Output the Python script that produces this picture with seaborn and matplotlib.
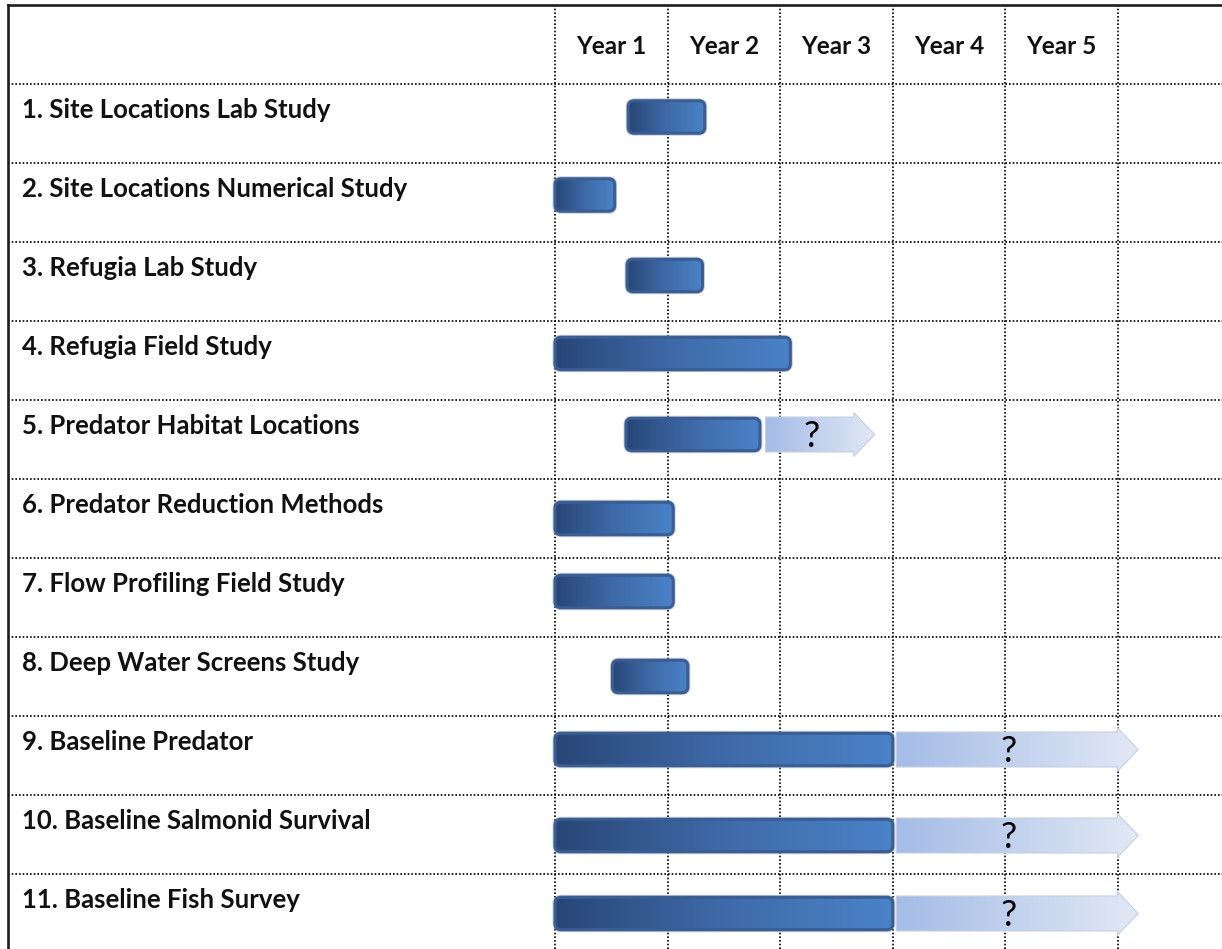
import numpy as np
import pandas as pd
import matplotlib
matplotlib.use("Agg")
import matplotlib.pyplot as plt
from matplotlib.patches import FancyBboxPatch, Polygon
from matplotlib.colors import LinearSegmentedColormap
import seaborn as sns

# ---- schedule data (in years from project start) ----
tasks = [
    "1. Site Locations Lab Study",
    "2. Site Locations Numerical Study",
    "3. Refugia Lab Study",
    "4. Refugia Field Study",
    "5. Predator Habitat Locations",
    "6. Predator Reduction Methods",
    "7. Flow Profiling Field Study",
    "8. Deep Water Screens Study",
    "9. Baseline Predator",
    "10. Baseline Salmonid Survival",
    "11. Baseline Fish Survey",
]
start_year = [0.65, 0.0, 0.64, 0.0, 0.63, 0.0, 0.0, 0.51, 0.0, 0.0, 0.0]
end_year = [1.33, 0.53, 1.31, 2.09, 1.82, 1.05, 1.05, 1.18, 3.0, 3.0, 3.0]
# uncertain continuation of a task (None where the task has none)
ext_start = [None, None, None, None, 1.87, None, None, None, 3.03, 3.03, 3.03]
ext_end = [None, None, None, None, 2.84, None, None, None, 5.18, 5.18, 5.18]
ext_label = "?"
years = ["Year 1", "Year 2", "Year 3", "Year 4", "Year 5"]

# ---- layout ----
W_PX, H_PX = 1222, 949
PX_X = 112.6          # pixels per year
PX_Y = 79.0           # pixels per row
X_ORIGIN_PX = 555     # pixel column of year 0
ROW0_TOP_PX = 84      # pixel row of the first task's top rule
BAR_H = 32.5 / PX_Y
row_nudge_px = [-6.5, -7.5, -6, -7, -5, 0, -6, 0, -6, 1, 0]
R_CORNER = 6 / PX_X
HEAD_LEN = 21 / PX_X
ARROW_HALF = 17.5 / PX_Y
HEAD_HALF = 22 / PX_Y

xlim = (-X_ORIGIN_PX / PX_X, (W_PX - X_ORIGIN_PX) / PX_X)
ylim = ((H_PX - ROW0_TOP_PX) / PX_Y - 0.5, -ROW0_TOP_PX / PX_Y - 0.5)
frame_left = (7.5 - X_ORIGIN_PX) / PX_X
frame_top = -1.5
label_x = (22 - X_ORIGIN_PX) / PX_X

sns.set_theme(style="white")
plt.rcParams["font.family"] = ["Lato", "DejaVu Sans"]

fig = plt.figure(figsize=(W_PX / 100, H_PX / 100), dpi=100)
ax = fig.add_axes([0, 0, 1, 1])

df = pd.DataFrame({
    "task": tasks,
    "start": start_year,
    "duration": np.subtract(end_year, start_year),
})
sns.barplot(data=df, x="duration", y="task", orient="h", left=df["start"].to_numpy(),
            width=BAR_H, color="#3a5d92", errorbar=None, ax=ax)

bar_grad = LinearSegmentedColormap.from_list("bar", ["#284677", "#3f6aa8", "#4a82c8"])
ext_grad = LinearSegmentedColormap.from_list("ext", ["#a5bce6", "#c3d2ee", "#e2e9f5"])
ramp = np.linspace(0, 1, 256).reshape(1, -1)


def gradient_fill(clip, x0, x1, y_top, y_bot, cmap, z):
    im = ax.imshow(ramp, cmap=cmap, extent=(x0, x1, y_bot, y_top), aspect="auto",
                   interpolation="bilinear", zorder=z)
    im.set_clip_path(clip)


bars = list(ax.patches)
centers = []
for p, nudge in zip(bars, row_nudge_px):
    x0, y0, w, h = p.get_x(), p.get_y(), p.get_width(), p.get_height()
    p.remove()
    yc = y0 + h / 2 + nudge / PX_Y
    centers.append(yc)
    # soft outer shadow
    shadow = FancyBboxPatch((x0, yc - h / 2), w, h,
                            boxstyle=f"round,pad=0,rounding_size={R_CORNER}",
                            mutation_aspect=PX_X / PX_Y, facecolor="none",
                            edgecolor="#8e9bb0", lw=3.6, alpha=0.45, zorder=3)
    ax.add_patch(shadow)
    box = FancyBboxPatch((x0, yc - h / 2), w, h,
                         boxstyle=f"round,pad=0,rounding_size={R_CORNER}",
                         mutation_aspect=PX_X / PX_Y, facecolor="none",
                         edgecolor="#3a5d92", lw=2.2, zorder=5)
    ax.add_patch(box)
    gradient_fill(box, x0, x0 + w, yc - h / 2, yc + h / 2, bar_grad, 4)

# uncertain continuations drawn as fading arrows
for xs, xe, yc in zip(ext_start, ext_end, centers):
    if xs is None:
        continue
    xh = xe - HEAD_LEN
    verts = [(xs, yc - ARROW_HALF), (xh, yc - ARROW_HALF), (xh, yc - HEAD_HALF),
             (xe, yc), (xh, yc + HEAD_HALF), (xh, yc + ARROW_HALF), (xs, yc + ARROW_HALF)]
    arrow = Polygon(verts, closed=True, facecolor="none", edgecolor="#c7d0e0",
                    lw=0.8, zorder=5)
    ax.add_patch(arrow)
    gradient_fill(arrow, xs, xe, yc - HEAD_HALF, yc + HEAD_HALF, ext_grad, 4)
    ax.text((xs + xh) / 2 + 2 / PX_X, yc + 12 / PX_Y, ext_label, ha="center",
            va="baseline", fontsize=26, color="black", zorder=6)

# dotted table rules
dots = dict(color="black", lw=1.2, linestyle=(0, (1, 1.2)), zorder=2)
for i in range(len(years) + 1):
    ax.plot([i, i], [frame_top, ylim[0]], **dots)
for k in range(len(tasks)):
    ax.plot([frame_left, xlim[1]], [k - 0.5, k - 0.5], **dots)

# solid outer frame
frame = dict(color="#1e1e1e", lw=1.9, solid_capstyle="projecting", zorder=6)
ax.plot([frame_left, xlim[1]], [frame_top, frame_top], **frame)
ax.plot([frame_left, frame_left], [frame_top, ylim[0]], **frame)

# header and task names
for i, name in enumerate(years):
    ax.text(i + 0.5, -0.5 - 30 / PX_Y, name, ha="center", va="baseline",
            fontsize=17.5, fontweight="bold", color="#111111")
for k, name in enumerate(tasks):
    ax.text(label_x, k - 0.5 + 34 / PX_Y, name, ha="left", va="baseline",
            fontsize=18.5, fontweight="bold", color="#111111")

ax.set_xlim(*xlim)
ax.set_ylim(*ylim)
ax.set_axis_off()

fig.savefig("out.png", dpi=100)
